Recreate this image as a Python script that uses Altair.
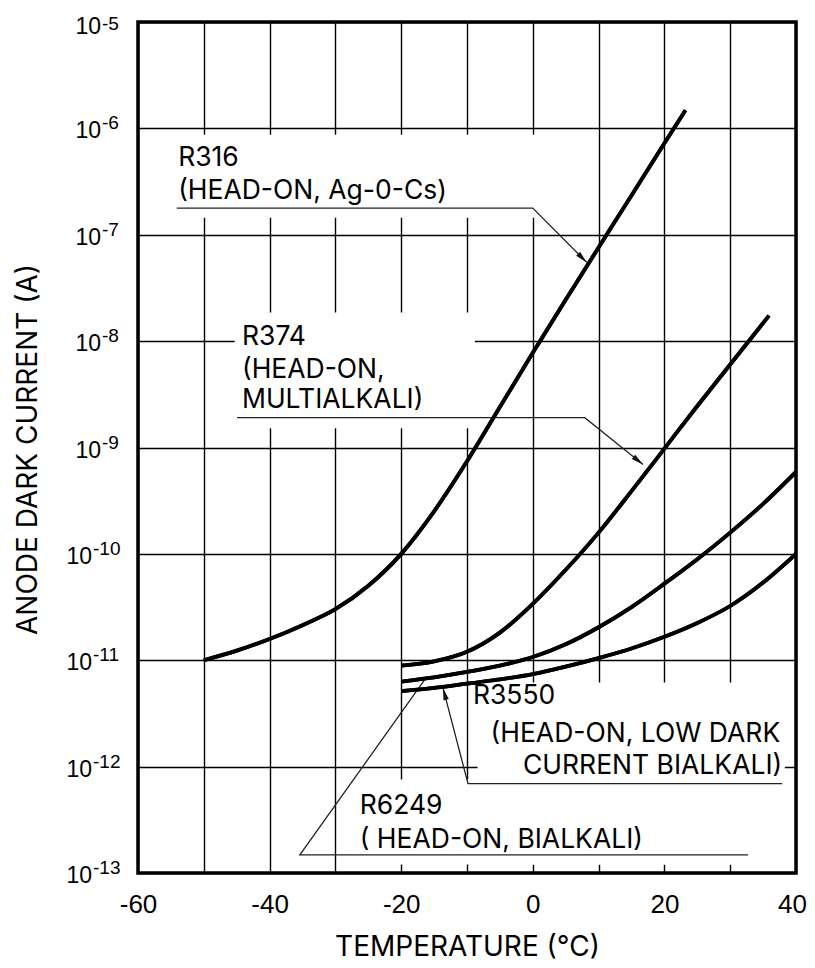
import altair as alt
import pandas as pd

XMIN, XMAX = -60, 40
YMIN, YMAX = 1e-13, 1e-5

# ---- curves: temperature (deg C) and log10 of anode dark current (A) ----
r316_t = [-50, -45, -40, -35, -30, -25, -20, -15, -10, -5, 0, 5, 10, 15, 20, 23.2]
r316_e = [-11.0, -10.91, -10.80, -10.67, -10.52, -10.30, -10.0, -9.60, -9.13, -8.62,
          -8.11, -7.61, -7.12, -6.63, -6.14, -5.83]
r374_t = [-20, -15, -10, -5, 0, 5, 10, 15, 20, 25, 30, 35.9]
r374_e = [-11.05, -11.01, -10.92, -10.74, -10.47, -10.15, -9.80, -9.41, -9.01, -8.61, -8.22, -7.76]
r6249_t = [-20, -15, -10, -5, 0, 5, 10, 15, 20, 25, 30, 35, 40]
r6249_e = [-11.20, -11.16, -11.11, -11.05, -10.97, -10.85, -10.69, -10.50, -10.28, -10.05,
           -9.80, -9.53, -9.23]
r3550_t = [-20, -15, -10, -5, 0, 5, 10, 15, 20, 25, 30, 35, 40]
r3550_e = [-11.29, -11.26, -11.22, -11.18, -11.13, -11.06, -10.98, -10.89, -10.78, -10.65,
           -10.49, -10.27, -10.0]

# ---- axis ticks ----
x_ticks = list(range(-60, 41, 10))
y_exps = [-5, -6, -7, -8, -9, -10, -11, -12, -13]

# ---- annotation labels ----
ann_text = ["R316", "(HEAD-ON, Ag-0-Cs)", "R374", "(HEAD-ON,", "MULTIALKALI)",
            "R3550", "(HEAD-ON, LOW DARK", "CURRENT BIALKALI)", "R6249", "( HEAD-ON, BIALKALI)"]
ann_t = [-53.9, -53.9, -44.2, -44.2, -44.2, -9.1, 37.6, 37.9, -26.3, -26.3]
ann_e = [-6.28, -6.59, -7.96, -8.27, -8.55, -11.34, -11.69, -11.99, -12.37, -12.69]
ann_align = ["left", "left", "left", "left", "left", "left", "right", "right", "left", "left"]

# ---- leader lines (label underline -> curve) ----
lead_name = ["R316"] * 3 + ["R374"] * 3 + ["R3550"] * 3 + ["R6249"] * 3
lead_t = [-54.1, 0.0, 8.2, -44.95, 7.9, 16.75, 37.9, -9.85, -13.65, 32.7, -35.4, -16.4]
lead_e = [-6.75, -6.75, -7.26, -8.72, -8.72, -9.16, -12.16, -12.16, -11.26, -12.83, -12.83, -11.18]

# arrow heads at leader ends
arrow_t = [8.2, 16.75, -13.65]
arrow_e = [-7.26, -9.16, -11.26]
arrow_angle = [135, 129, 345]

# white boxes behind label blocks (grid is interrupted there)
box_t1 = [-59.0, -45.3, -8.4, -28.5]
box_t2 = [5.0, -8.8, 38.3, 37.5]
box_e1 = [-6.06, -7.73, -11.21, -12.12]
box_e2 = [-6.84, -8.82, -12.92, -12.92]

# ---------------------------------------------------------------------------
rows = []
for name, ts, es in [("R316", r316_t, r316_e), ("R374", r374_t, r374_e),
                     ("R6249", r6249_t, r6249_e), ("R3550", r3550_t, r3550_e)]:
    for i, (t, e) in enumerate(zip(ts, es)):
        rows.append({"name": name, "seq": i, "temp": t, "current": 10 ** e})
curves = pd.DataFrame(rows)

ann = pd.DataFrame({"text": ann_text, "temp": ann_t,
                    "current": [10 ** e for e in ann_e], "align": ann_align})
lead = pd.DataFrame({"name": lead_name, "seq": list(range(len(lead_name))),
                     "temp": lead_t, "current": [10 ** e for e in lead_e]})
arrows = pd.DataFrame({"temp": arrow_t, "current": [10 ** e for e in arrow_e],
                       "angle": arrow_angle})
boxes = pd.DataFrame({"t1": box_t1, "t2": box_t2,
                      "c1": [10 ** e for e in box_e1], "c2": [10 ** e for e in box_e2]})
ylab = pd.DataFrame({"exp": y_exps, "current": [10.0 ** e for e in y_exps],
                     "base": ["10"] * len(y_exps), "sup": [str(e) for e in y_exps],
                     "edge": [XMIN] * len(y_exps)})

xs = alt.Scale(domain=[XMIN, XMAX], nice=False, zero=False)
ys = alt.Scale(type="log", domain=[YMIN, YMAX], nice=False)

FONT = "Liberation Sans"
AFONT = "Inter"

x_axis = alt.Axis(values=x_ticks,
                  labelExpr="datum.value % 20 == 0 ? toString(datum.value) : ''",
                  grid=True, gridColor="black", gridWidth=1.4, gridOpacity=1,
                  ticks=False, tickSize=0, domain=False,
                  labelFlush=False, labelOverlap=False,
                  labelOffset={"condition": {"test": "datum.value == 40", "value": -4}, "value": 0},
                  labelFont=FONT, labelFontSize=26, labelColor="black", labelPadding=18,
                  title="TEMPERATURE (°C)", titleFont=AFONT, titleFontSize=28,
                  titleFontWeight="normal", titleColor="black",
                  titleX=329, titleY=74, titleBaseline="middle")
y_axis = alt.Axis(values=[10.0 ** e for e in y_exps], labels=False,
                  grid=True, gridColor="black", gridWidth=1.4, gridOpacity=1,
                  ticks=False, tickSize=0, domain=False,
                  title="ANODE DARK CURRENT (A)", titleFont=AFONT, titleFontSize=28,
                  titleFontWeight="normal", titleColor="black",
                  titleX=-110, titleY=427, titleBaseline="middle")


def X(f):
    return alt.X(f, type="quantitative", scale=xs, axis=x_axis)


def Y(f):
    return alt.Y(f, type="quantitative", scale=ys, axis=y_axis)


curve_layer = alt.Chart(curves).mark_line(
    color="black", strokeWidth=3.8, interpolate="monotone", clip=True
).encode(x=X("temp"), y=Y("current"), detail="name:N", order="seq:Q")

box_layer = alt.Chart(boxes).mark_rect(fill="white").encode(
    x=X("t1"), x2="t2", y=Y("c1"), y2="c2")

lead_layer = alt.Chart(lead).mark_line(color="#222222", strokeWidth=1.3).encode(
    x=X("temp"), y=Y("current"), detail="name:N", order="seq:Q")

arrow_layer = alt.Chart(arrows).mark_point(
    shape="M0,0L0.45,2L-0.45,2Z", filled=True, color="#111111", opacity=1, size=150
).encode(x=X("temp"), y=Y("current"), angle=alt.Angle("angle:Q", scale=None))

ann_left = alt.Chart(ann).transform_filter("datum.align == 'left'").mark_text(
    align="left", baseline="middle", font=AFONT, fontSize=26.5, color="black"
).encode(x=X("temp"), y=Y("current"), text="text:N")
ann_right = alt.Chart(ann).transform_filter("datum.align == 'right'").mark_text(
    align="right", baseline="middle", font=AFONT, fontSize=26.5, color="black"
).encode(x=X("temp"), y=Y("current"), text="text:N")

# y tick labels drawn as "10" plus a raised exponent
ylab_top = alt.Chart(ylab).transform_filter("datum.exp == -5")
ylab1 = alt.Chart(ylab).transform_filter("datum.exp < -5 && datum.exp >= -9")
ylab2 = alt.Chart(ylab).transform_filter("datum.exp < -9")


def ylabel(src, dx_base, dy_base, dx_sup, dy_sup):
    b = src.mark_text(align="right", baseline="alphabetic", dx=dx_base, dy=dy_base,
                      font=FONT, fontSize=23, color="black", clip=False).encode(
        x=X("edge"), y=Y("current"), text="base:N")
    s = src.mark_text(align="left", baseline="alphabetic", dx=dx_sup, dy=dy_sup,
                      font=FONT, fontSize=19, color="black", clip=False).encode(
        x=X("edge"), y=Y("current"), text="sup:N")
    return [b, s]


ylabels = (ylabel(ylab_top, -37, 12, -36, 8)
           + ylabel(ylab1, -37, 10, -36, 1)
           + ylabel(ylab2, -46, 10, -45, 1))

chart = alt.layer(
    curve_layer, box_layer, lead_layer, arrow_layer, curve_layer,
    ann_left, ann_right, *ylabels
).properties(
    width=658, height=851,
    autosize=alt.AutoSizeParams(type="none"),
    padding={"left": 130, "top": 14, "right": 11, "bottom": 90},
    background="white",
).configure_view(stroke="black", strokeWidth=3.5)

chart.save("out.html", embed_options={"renderer": "svg", "actions": False})
